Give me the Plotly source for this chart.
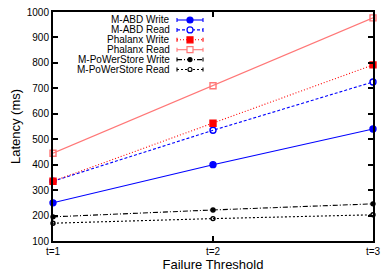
import plotly.graph_objects as go

thresholds = ["t=1", "t=2", "t=3"]
mabd_write = [250, 400, 540]
mabd_read = [335, 535, 725]
phalanx_write = [335, 563, 792]
phalanx_read = [445, 710, 977]
mpws_write = [195, 222, 246]
mpws_read = [170, 188, 203]

xs = [1, 2, 3]

# name, values, color, dash, marker symbol, marker size, filled
series = [
    ("M-ABD Write", mabd_write, "#0000ff", "solid", "circle", 6, True),
    ("M-ABD Read", mabd_read, "#0000ff", "3px,2px", "circle-open", 6, False),
    ("Phalanx Write", phalanx_write, "#ff0000", "1px,2px", "square", 6, True),
    ("Phalanx Read", phalanx_read, "#ff7777", "solid", "square-open", 6, False),
    ("M-PoWerStore Write", mpws_write, "#000000", "5px,2px,1px,2px", "circle", 4, True),
    ("M-PoWerStore Read", mpws_read, "#000000", "2px,2px", "circle-open", 4, False),
]

# page is rendered with an 8px body margin; compensate
OFF = 8
W, H = 390 - OFF, 273 - OFF
L, R, T, B = 53 - OFF, 17, 12 - OFF, 32
PW, PH = W - L - R, H - T - B


def px(x):
    # x in page pixels
    return (x - OFF - L) / PW


def py(y):
    # y in page pixels
    return (H - B - (y - OFF)) / PH


fig = go.Figure()
shapes = []
annotations = []
for i, (name, ys, color, dash, sym, size, filled) in enumerate(series):
    fig.add_trace(go.Scatter(
        x=xs, y=ys, name=name, mode="lines+markers",
        line=dict(color=color, dash=dash, width=1.1),
        marker=dict(symbol=sym, size=size, color=color, line=dict(color=color, width=1.4)),
        cliponaxis=False, showlegend=False,
    ))
    # custom legend row (gnuplot style: text right-aligned, sample on the right)
    ry = 20 + i * 9.9
    annotations.append(dict(
        xref="paper", yref="paper", x=px(172), y=py(ry), xanchor="right", yanchor="middle",
        text=name, showarrow=False, font=dict(family="Liberation Sans", size=10, color="black"),
    ))
    shapes.append(dict(type="line", xref="paper", yref="paper", x0=px(177), x1=px(203),
                       y0=py(ry), y1=py(ry), line=dict(color=color, width=1.1, dash=dash)))
    for cx in (177, 203):
        shapes.append(dict(type="line", xref="paper", yref="paper", x0=px(cx), x1=px(cx),
                           y0=py(ry - 2), y1=py(ry + 2), line=dict(color=color, width=1.1)))
    r = 2 if name.startswith("M-PoWer") else 3
    kind = "rect" if sym.startswith("square") else "circle"
    shapes.append(dict(type=kind, xref="paper", yref="paper",
                       x0=px(190 - r), x1=px(190 + r), y0=py(ry - r), y1=py(ry + r),
                       line=dict(color=color, width=1.2),
                       fillcolor=color if filled else "white"))

axis_common = dict(
    showline=True, linecolor="black", linewidth=2, mirror="allticks",
    ticks="inside", ticklen=5, tickwidth=1.5, tickcolor="black",
    showgrid=False, zeroline=False, automargin=False, ticklabeloverflow="allow",
    tickfont=dict(family="Liberation Sans", size=10, color="black"),
)

fig.update_xaxes(
    range=[1, 3], tickvals=xs, ticktext=thresholds,
    title=dict(text="Failure Threshold", font=dict(family="Liberation Sans", size=13, color="black"), standoff=2),
    **axis_common,
)
fig.update_yaxes(
    range=[100, 1000], tickvals=list(range(100, 1001, 100)),
    title=dict(text="Latency (ms)", font=dict(family="Liberation Sans", size=13, color="black"), standoff=10),
    **axis_common,
)

fig.update_layout(
    width=W, height=H,
    margin=dict(l=L, r=R, t=T, b=B),
    plot_bgcolor="white", paper_bgcolor="white",
    showlegend=False,
    shapes=shapes, annotations=annotations,
)

fig.write_html("out.html")
